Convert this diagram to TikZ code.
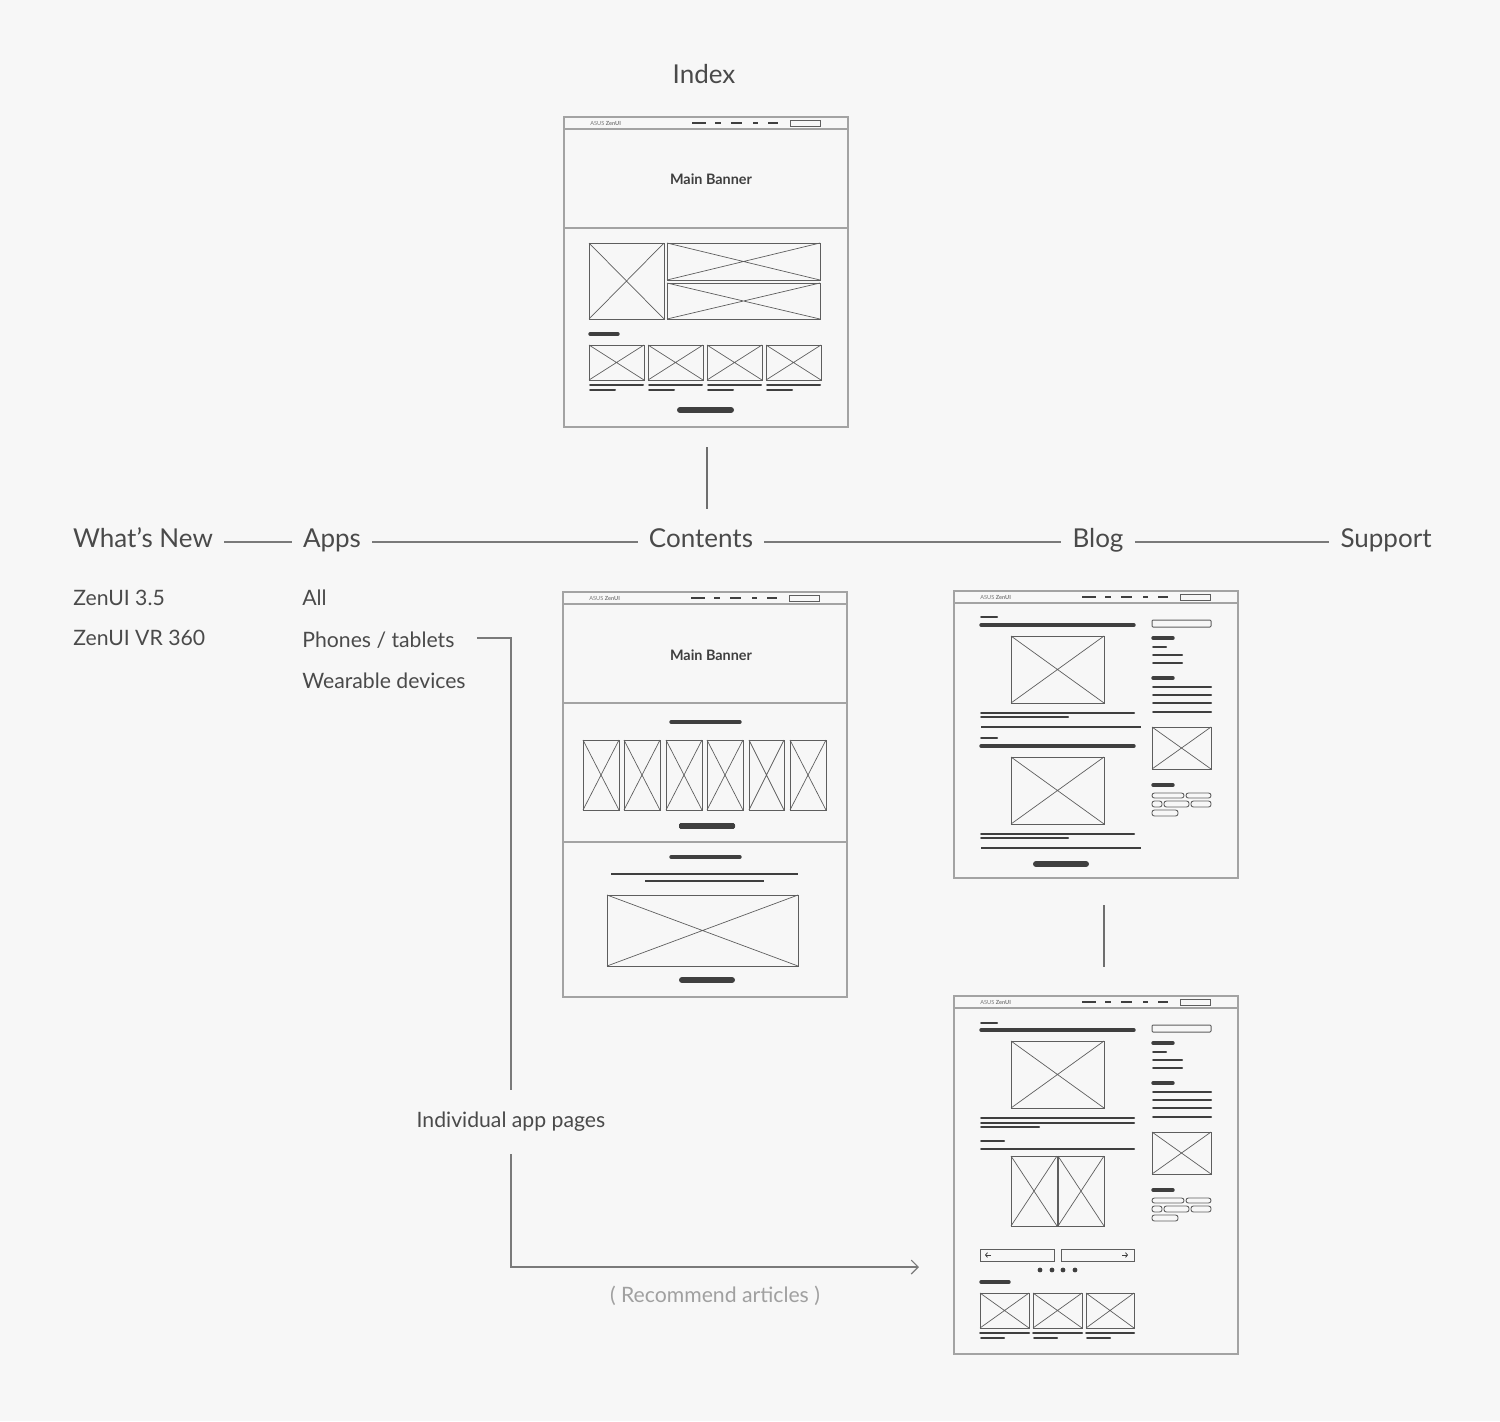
\documentclass[tikz,border=0pt]{standalone}
\usepackage{fontspec}
\setmainfont{Lato}
\usetikzlibrary{arrows.meta}
\definecolor{bg}{HTML}{F7F7F7}
\definecolor{wfborder}{HTML}{A3A3A3}
\definecolor{imgc}{HTML}{5E5E5E}
\definecolor{barc}{HTML}{3F3F3F}
\definecolor{labc}{HTML}{4A4A4A}
\definecolor{connc}{HTML}{7A7A7A}
\definecolor{lightlab}{HTML}{A0A0A0}
\tikzset{
  wfbox/.style={draw=wfborder, line width=0.75pt, inner sep=0pt, outer sep=0pt},
  secline/.style={draw=wfborder, line width=0.6pt},
  imgbox/.style={draw=imgc, line width=0.5pt},
  diag/.style={draw=imgc, line width=0.35pt},
  bar/.style={draw=barc, line cap=round},
  bthick/.style={bar, line width=3pt},
  bhead/.style={bar, line width=1.7pt},
  btext/.style={bar, line width=1pt},
  bthin/.style={draw=barc, line width=0.55pt},
  navdash/.style={draw=barc, line width=1pt},
  pill/.style={draw=imgc, line width=0.45pt, rounded corners=1.2pt},
  logo/.style={font=\fontsize{2.8}{3}\selectfont, text=barc!70, anchor=west, inner sep=0pt},
  banner/.style={font=\bfseries\fontsize{7.2}{9}\selectfont, text=barc},
  lab/.style={font=\fontsize{13}{15}\selectfont, text=labc, inner xsep=5.5pt, inner ysep=1pt},
  sublab/.style={font=\fontsize{10.6}{13}\selectfont, text=labc, inner sep=0pt},
  rowline/.style={draw=connc, line width=1pt},
  vline/.style={draw=connc!90!black, line width=1.3pt},
  thinconn/.style={draw=connc, line width=0.55pt},
}
\newcommand\wfhead[3]{%
  \begin{scope}[shift={(#2,#3)}]
    \draw[secline] (0,12) -- (284,12);
    \node[logo] (#1logo) at (26,6) {ASUS \textbf{ZenUI}};
    \foreach \a/\b in {128/142,151/157,167/178,189/194,204/214} \draw[navdash] (\a,6) -- (\b,6);
    \draw[imgbox] (226,3) rectangle (256,9);
  \end{scope}}
\newcommand\wfimg[4]{%
  \draw[imgbox] (#1,#2) rectangle (#3,#4);
  \draw[diag] (#1,#2) -- (#3,#4) (#1,#4) -- (#3,#2);}
\newcommand\wfside[2]{%
  \begin{scope}[shift={(#1,#2)}]
    \draw[imgbox, rounded corners=0.5pt] (198,29) rectangle (257,36);
    \draw[bhead] (199,47) -- (219,47);
    \draw[btext] (199,56) -- (212,56);
    \draw[btext] (199,64) -- (228,64);
    \draw[btext] (199,72) -- (228,72);
    \draw[bhead] (199,87) -- (219,87);
    \foreach \y in {96,104,112,121} \draw[btext] (199,\y) -- (257,\y);
    \wfimg{198}{136}{257}{178}
    \draw[bhead] (199,194) -- (219,194);
    \draw[pill] (198,202) rectangle (230,207);
    \draw[pill] (232,202) rectangle (257,207);
    \draw[pill] (198,210) rectangle (208,216);
    \draw[pill] (210,210) rectangle (235,216);
    \draw[pill] (237,210) rectangle (257,216);
    \draw[pill] (198,219) rectangle (224,225);
  \end{scope}}
\begin{document}
\begin{tikzpicture}[x=0.5pt,y=-0.5pt]
\fill[bg] (0,0) rectangle (1500,1421);
\useasboundingbox (0,0) rectangle (1500,1421);

% ---------- Index wireframe ----------
\node[lab] (idxlab) at (704,74) {Index};
\node[wfbox, minimum width=142pt, minimum height=155pt, anchor=north west] (idxwf) at (564,117) {};
\wfhead{idx}{564}{117}
\node[banner] (idxban) at (711,179) {Main Banner};
\begin{scope}[shift={(564,117)}]
  \draw[secline] (0,111) -- (284,111);
  \wfimg{25}{126}{100}{202}
  \wfimg{103}{126}{256}{163}
  \wfimg{103}{166}{256}{202}
  \draw[bhead] (26,217) -- (54,217);
  \foreach \a in {25,84,143,202} {
    \wfimg{\a}{228}{\a+55}{263}
    \draw[btext] (\a+1,268) -- (\a+54,268);
    \draw[btext] (\a+1,273) -- (\a+26,273);
  }
  \draw[bthick] (116,293) -- (167,293);
\end{scope}

% ---------- Navigation row ----------
\node[lab, anchor=mid] (wn) at (143,542) {What’s New};
\node[lab, anchor=mid] (apps) at (332,542) {Apps};
\node[lab, anchor=mid] (cont) at (701,542) {Contents};
\node[lab, anchor=mid] (blog) at (1098,542) {Blog};
\node[lab, anchor=mid] (sup) at (1386,542) {Support};
\draw[rowline] (wn.mid east) -- (apps.mid west);
\draw[rowline] (apps.mid east) -- (cont.mid west);
\draw[rowline] (cont.mid east) -- (blog.mid west);
\draw[rowline] (blog.mid east) -- (sup.mid west);
\draw[vline, shorten <=10pt, shorten >=16.5pt] ([xshift=0.5pt]idxwf.south) -- ([xshift=0.5pt]idxwf.south |- cont.mid);

% sub labels
\node[sublab, anchor=mid west] (z35) at (73,600) {ZenUI 3.5};
\node[sublab, anchor=mid west] (zvr) at (73,640) {ZenUI VR 360};
\node[sublab, anchor=mid west] (all) at (302,600) {All};
\node[sublab, anchor=mid west] (phones) at (302,642) {Phones / tablets};
\node[sublab, anchor=mid west] (wear) at (302,683) {Wearable devices};

% ---------- Contents wireframe ----------
\node[wfbox, minimum width=142pt, minimum height=202.5pt, anchor=north west] (contwf) at (563,592) {};
\wfhead{cont}{563}{592}
\node[banner] (contban) at (711,655) {Main Banner};
\begin{scope}[shift={(563,592)}]
  \draw[secline] (0,111) -- (284,111);
  \draw[bhead] (108,130) -- (177,130);
  \foreach \a/\b in {20/56,61/97,103/139,144/180,186/221,227/263} \wfimg{\a}{148}{\b}{218}
  \draw[bthick] (119,234) -- (169,234);
  \draw[secline] (0,250) -- (284,250);
  \draw[bhead] (108,265) -- (177,265);
  \draw[bthin] (48,282) -- (235,282);
  \draw[bthin] (82,289) -- (201,289);
  \wfimg{44}{303}{235}{374}
  \draw[bthick] (119,388) -- (169,388);
\end{scope}

% ---------- Blog wireframe ----------
\node[wfbox, minimum width=142pt, minimum height=143.5pt, anchor=north west] (blogwf) at (954,591) {};
\wfhead{blog}{954}{591}
\begin{scope}[shift={(954,591)}]
  \draw[btext] (27,26) -- (43,26);
  \draw[bhead] (27,34) -- (180,34);
  \wfimg{57}{45}{150}{112}
  \draw[btext] (27,122) -- (180,122);
  \draw[btext] (27,126) -- (114,126);
  \draw[bthin] (27,136) -- (187,136);
  \draw[btext] (27,147) -- (43,147);
  \draw[bhead] (27,155) -- (180,155);
  \wfimg{57}{166}{150}{233}
  \draw[btext] (27,243) -- (180,243);
  \draw[btext] (27,247) -- (114,247);
  \draw[bthin] (27,257) -- (187,257);
  \draw[bthick] (82,273) -- (132,273);
\end{scope}
\wfside{954}{591}

% ---------- Article wireframe ----------
\node[wfbox, minimum width=142pt, minimum height=179pt, anchor=north west] (artwf) at (954,996) {};
\wfhead{art}{954}{996}
\begin{scope}[shift={(954,996)}]
  \draw[btext] (27,27) -- (43,27);
  \draw[bhead] (27,34) -- (180,34);
  \wfimg{57}{45}{150}{112}
  \draw[btext] (27,122) -- (180,122);
  \draw[btext] (27,127) -- (180,127);
  \draw[btext] (27,131) -- (85,131);
  \draw[btext] (27,145) -- (50,145);
  \draw[btext] (27,153) -- (180,153);
  \wfimg{57}{160}{103}{230}
  \wfimg{104}{160}{150}{230}
  \draw[imgbox] (26,253) rectangle (100,265);
  \draw[imgbox] (107,253) rectangle (180,265);
  \draw[barc, line width=0.4pt, -{Straight Barb[length=1pt,width=2.4pt]}] (37,259) -- (31,259);
  \draw[barc, line width=0.4pt, -{Straight Barb[length=1pt,width=2.4pt]}] (168,259) -- (174,259);
  \foreach \x in {86,98,109,121} \fill[barc] (\x,274) circle (1.2pt);
  \draw[bhead] (27,286) -- (55,286);
  \foreach \a/\b in {26/75,79/128,132/180} {
    \wfimg{\a}{297}{\b}{332}
    \draw[btext] (\a,337) -- (\b,337);
    \draw[btext] (\a+1,342) -- (\a+24,342);
  }
\end{scope}
\wfside{954}{996}
\draw[vline, shorten <=13.5pt, shorten >=14.5pt] ([xshift=4pt]blogwf.south) -- ([xshift=4pt]artwf.north);

% ---------- Individual app pages ----------
\node[sublab] (indiv) at (511,1122) {Individual app pages};
\coordinate (recend) at (919,1267);
\draw[thinconn] ([xshift=11pt,yshift=2pt]phones.mid east) -| ([yshift=16pt]indiv.center);
\draw[thinconn, -{Straight Barb[length=3.5pt,width=7pt]}] ([yshift=-16pt]indiv.center) |- (recend);
\node[sublab, text=lightlab] (rec) at (715,1296) {( Recommend articles )};
\end{tikzpicture}
\end{document}
